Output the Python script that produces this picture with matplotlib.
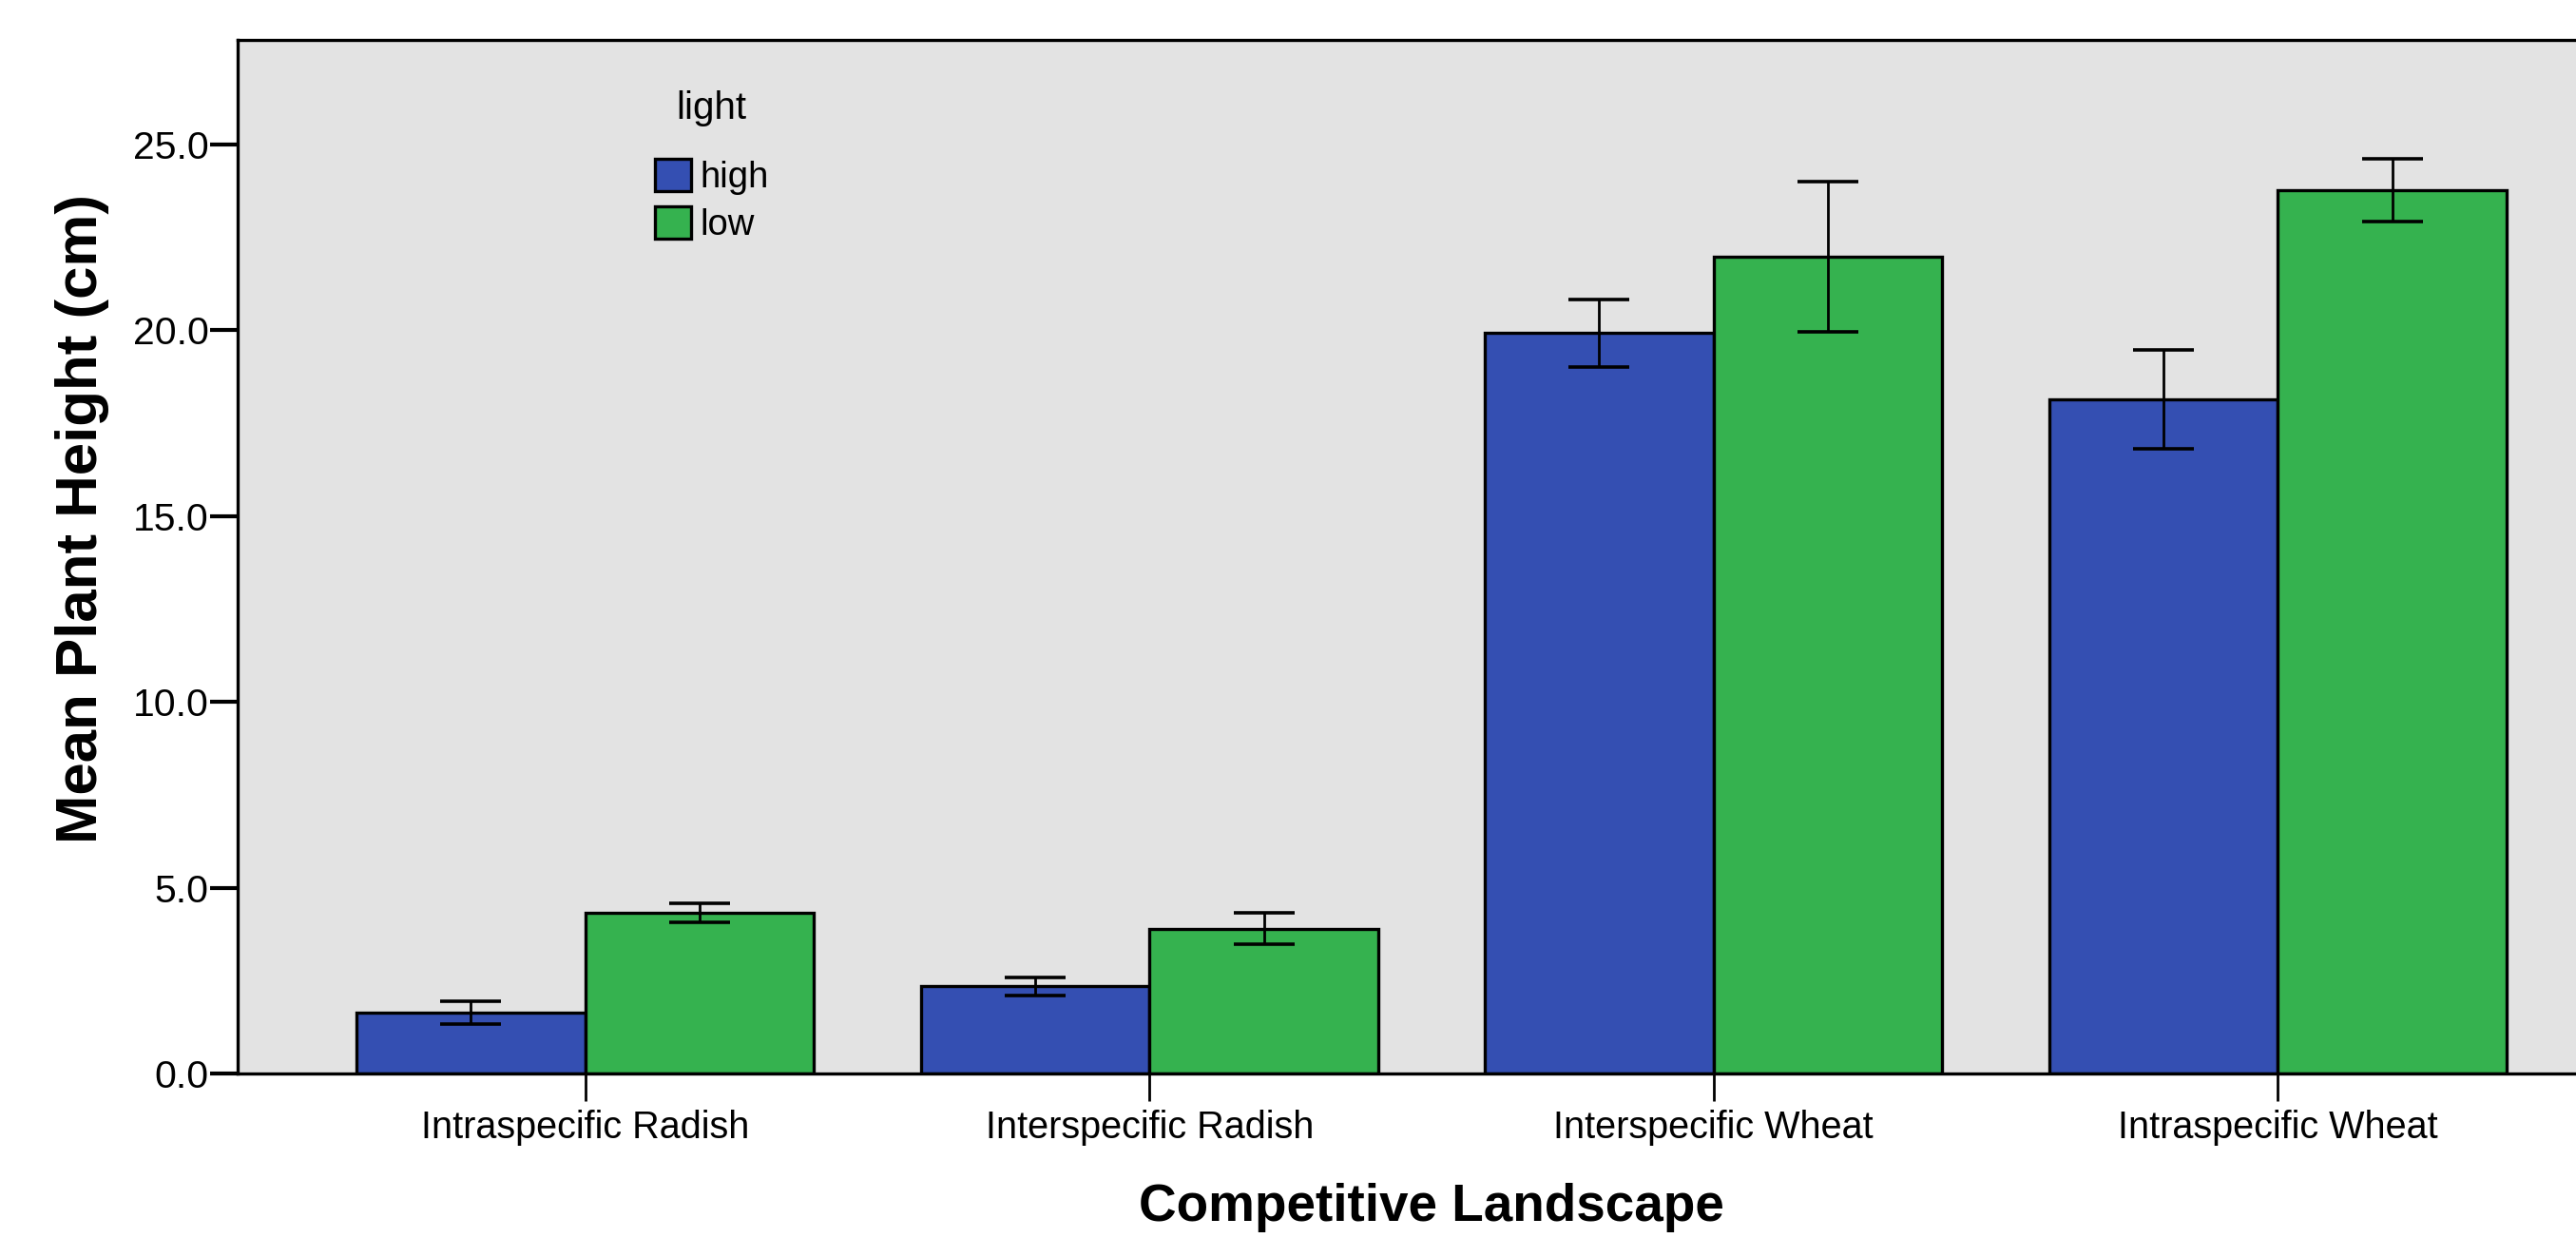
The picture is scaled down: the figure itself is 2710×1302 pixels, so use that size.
"""Grouped bar chart: mean plant height by competitive landscape and light level."""

import numpy as np
import matplotlib
matplotlib.use('Agg')
import matplotlib.pyplot as plt
from matplotlib.patches import Patch
from matplotlib.ticker import FormatStrFormatter

plt.rcParams['font.family'] = ['Liberation Sans', 'DejaVu Sans']

# group labels along the x axis
landscapes = ['Intraspecific Radish', 'Interspecific Radish',
              'Interspecific Wheat', 'Intraspecific Wheat']

# mean height (cm) and error half-width for each light level
high_mean = [1.64, 2.35, 19.92, 18.13]
high_err = [0.30, 0.25, 0.905, 1.335]
low_mean = [4.33, 3.90, 21.98, 23.75]
low_err = [0.255, 0.42, 2.02, 0.845]

light_levels = ['high', 'low']
light_colors = ['#344fb2', '#35b24f']

y_ticks = [0, 5, 10, 15, 20, 25]

W, H = 2710, 1302
fig = plt.figure(figsize=(W / 100, H / 100), dpi=100)
# the plot frame runs a little past the right edge of the canvas
ax = fig.add_axes([250 / W, 1 - 1129.3 / H, (2762 - 250) / W, (1129.3 - 42) / H])
ax.set_facecolor('#e3e3e3')

x = np.arange(len(landscapes))
width = 0.4054
err_kw = dict(ecolor='black', elinewidth=2.0, capsize=23, capthick=2.6)

for offset, means, errs, color in [(-width / 2, high_mean, high_err, light_colors[0]),
                                   (width / 2, low_mean, low_err, light_colors[1])]:
    ax.bar(x + offset, means, width, color=color, edgecolor='black', linewidth=2.4,
           yerr=errs, error_kw=err_kw, zorder=2)

ax.set_xlim(-0.616, 3.616)
ax.set_ylim(0, 27.8)
ax.set_yticks(y_ticks)
ax.yaxis.set_major_formatter(FormatStrFormatter('%.1f'))
ax.set_xticks(x)
ax.set_xticklabels(landscapes)

ax.tick_params(axis='y', length=21, width=3, labelsize=29.5, pad=1, colors='black')
ax.tick_params(axis='x', length=21, width=2, labelsize=28.5, pad=6, colors='black')

for side in ['left', 'top', 'bottom']:
    ax.spines[side].set_linewidth(2.4)
    ax.spines[side].set_color('black')
ax.spines['right'].set_visible(False)

ax.set_ylabel('Mean Plant Height (cm)', fontsize=44.5, fontweight='bold', labelpad=18)
ax.yaxis.label.set_y(0.537)
ax.set_xlabel('Competitive Landscape', fontsize=39.5, fontweight='bold', labelpad=28)

# legend for light level, with its heading set a little apart
handles = [Patch(facecolor=c, edgecolor='black', linewidth=2.4, label=l)
           for c, l in zip(light_colors, light_levels)]
leg = ax.legend(handles=handles, loc='upper left',
                bbox_to_anchor=(689 / W, 1 - 167 / H), bbox_transform=fig.transFigure,
                frameon=False, fontsize=27.5,
                handlelength=1.0, handleheight=1.0, handletextpad=0.25,
                labelspacing=0.3, borderpad=0, borderaxespad=0)
fig.text(748 / W, 1 - 114 / H, 'light', fontsize=29, ha='center', va='center')

fig.savefig('out.png', dpi=100)
plt.close(fig)
